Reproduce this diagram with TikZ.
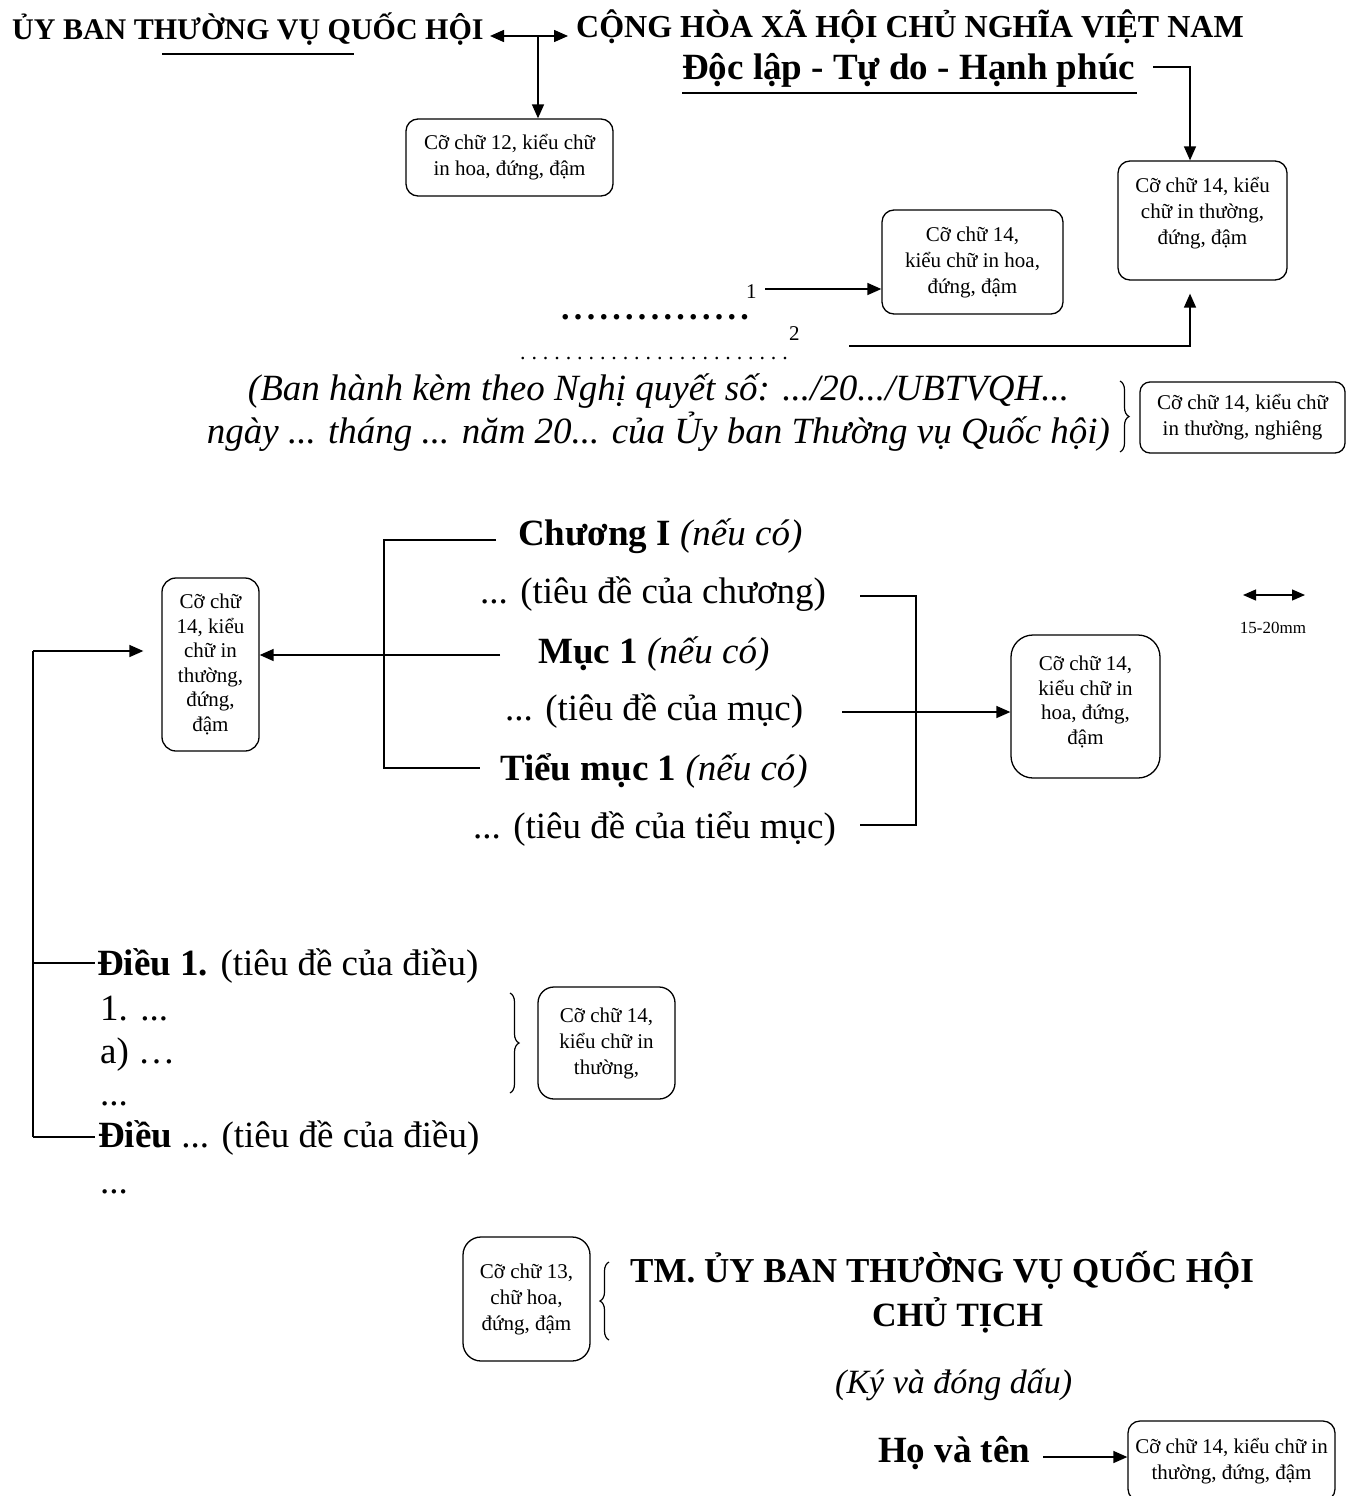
\documentclass[tikz,border=0pt]{standalone}
\usepackage{fontspec}
\setmainfont{Liberation Serif}
\usetikzlibrary{arrows.meta,decorations.pathreplacing,calc}
\newcommand\fsz[1]{\fontsize{#1}{#1}\selectfont}
\begin{document}
\begin{tikzpicture}[x=1pt,y=-1pt,
  box/.style={draw, rounded corners=12pt, line width=1.3pt, align=center,
    font=\fontsize{21}{26}\selectfont, inner sep=0pt},
  lbl/.style={inner sep=0pt, anchor=base west},
  conn/.style={line width=1.5pt},
  arr/.style={conn, -{Triangle[length=14pt,width=12pt]}},
  darr/.style={conn, {Triangle[length=14pt,width=12pt]}-{Triangle[length=14pt,width=12pt]}},
  brace/.style={decorate, decoration={brace, amplitude=9pt}, line width=1.2pt},
]
\useasboundingbox (0,0) rectangle (1357,1496);

% ---------- header ----------
\node[lbl, font=\fsz{30}\bfseries] (uyban) at (12,40) {ỦY BAN THƯỜNG VỤ QUỐC HỘI};
\draw[conn] (162,54) -- (354,54);
\node[lbl, font=\fsz{32}\bfseries] (cong) at (576,38) {CỘNG HÒA XÃ HỘI CHỦ NGHĨA VIỆT NAM};
\node[lbl, font=\fsz{37}\bfseries] (doclap) at (682,80) {Độc lập - Tự do - Hạnh phúc};
\draw[conn] (682,93) -- (1137,93);

\node[box, minimum width=207pt, minimum height=77pt] (b1) at (509.5,157.5)
  {Cỡ chữ 12, kiểu chữ\\in hoa, đứng, đậm};
\node[box, minimum width=169pt, minimum height=119pt] (b2) at (1202.5,220.5) {};
\node[inner sep=0pt, align=center, font=\fontsize{21}{26}\selectfont] (b2t) at (1202.5,213)
  {Cỡ chữ 14, kiểu\\chữ in thường,\\đứng, đậm};
\node[box, minimum width=181pt, minimum height=104pt] (b3) at (972.5,262)
  {Cỡ chữ 14,\\kiểu chữ in hoa,\\đứng, đậm};

\coordinate (dl) at (490,36);
\coordinate (dr) at (568,36);
\draw[darr] (dl) -- (dr);
\draw[arr] (538,36) -- (538,0 |- b1.north);
\draw[arr] (1153,67) -| (1190,0 |- b2.north);

\node[lbl, font=\fsz{21}] (n1) at (746,298) {1};
\coordinate (a1) at (765,289);
\draw[arr] (a1) -- (b3.west |- a1);
\node[lbl, font=\fsz{34}\bfseries] (dots1) at (561,319)
  {\foreach \i in {1,...,15}{.\hspace{4.3pt}}};
\node[lbl, font=\fsz{21}] (n2) at (789,340) {2};
\node[lbl, font=\fsz{22}] (dots2) at (520,359)
  {\foreach \i in {1,...,24}{.\hspace{5.9pt}}};
\coordinate (a2) at (849,346);
\draw[arr] (a2) -| ($(1190,0 |- b2.south)+(0,13)$);

\node[inner sep=0pt, anchor=base, font=\fsz{37}\itshape] (bh1) at (658.5,400)
  {(Ban hành kèm theo Nghị quyết số: .../20.../UBTVQH...};
\node[inner sep=0pt, anchor=base, font=\fsz{37}\itshape] (bh2) at (658.5,443)
  {ngày ... tháng ... năm 20... của Ủy ban Thường vụ Quốc hội)};
\draw[brace] (1120,381) -- (1120,452);
\node[box, rounded corners=10pt, minimum width=205pt, minimum height=71pt] (b4) at (1242.5,417.5)
  {Cỡ chữ 14, kiểu chữ\\in thường, nghiêng};

% ---------- middle ----------
\node[lbl, font=\fsz{37}] (chuong) at (518,545) {\textbf{Chương I} \textit{(nếu có)}};
\node[lbl, font=\fsz{37}] (tdc) at (480,603) {... (tiêu đề của chương)};
\node[lbl, font=\fsz{37}] (muc) at (538,663) {\textbf{Mục 1} \textit{(nếu có)}};
\node[lbl, font=\fsz{37}] (tdm) at (505,720) {... (tiêu đề của mục)};
\node[lbl, font=\fsz{37}] (tieumuc) at (500,780) {\textbf{Tiểu mục 1} \textit{(nếu có)}};
\node[lbl, font=\fsz{37}] (tdtm) at (473,838) {... (tiêu đề của tiểu mục)};

\node[box, rounded corners=14pt, minimum width=97pt, minimum height=173pt,
  font=\fontsize{21}{24.5}\selectfont] (lb) at (210.5,664.5)
  {Cỡ chữ\\14, kiểu\\chữ in\\thường,\\đứng,\\đậm};
\node[box, rounded corners=22pt, minimum width=149pt, minimum height=143pt,
  font=\fontsize{21}{24.5}\selectfont] (rb) at (1085.5,706.5) {};
\node[inner sep=0pt, align=center, font=\fontsize{21}{24.5}\selectfont] (rbt) at (1085.5,702)
  {Cỡ chữ 14,\\kiểu chữ in\\hoa, đứng,\\đậm};

\draw[conn] (496,540) -- (384,540) -- (384,768) -- (480,768);
\coordinate (am) at (500,655);
\draw[arr] (am) -- (lb.east |- am);
\draw[conn] (860,596) -- (916,596) -- (916,825) -- (860,825);
\coordinate (ar) at (842,712);
\draw[arr] (ar) -- (rb.west |- ar);

\coordinate (sl) at (1243,595);
\coordinate (sr) at (1305,595);
\draw[line width=1.2pt, {Triangle[length=13pt,width=11pt]}-{Triangle[length=13pt,width=11pt]}] (sl) -- (sr);
\node[inner sep=0pt, anchor=base, font=\fsz{17}] (mm) at (1273,633) {15-20mm};

% ---------- articles ----------
\node[lbl, font=\fsz{37}] (d1) at (97,975) {\textbf{Điều 1.} (tiêu đề của điều)};
\node[lbl, font=\fsz{37}] (k1) at (100,1020) {1. ...};
\node[lbl, font=\fsz{37}] (ka) at (100,1063) {a) …};
\node[lbl, font=\fsz{37}] (kd) at (100,1105) {...};
\node[lbl, font=\fsz{37}] (dn) at (98,1147) {\textbf{Điều} ... (tiêu đề của điều)};
\node[lbl, font=\fsz{37}] (kd2) at (100,1193) {...};

\coordinate (vtop) at (33,651);
\coordinate (vbot) at (33,1137);
\draw[arr] (vtop) -- ($(lb.west |- vtop)+(-18,0)$);
\draw[conn] (vtop) -- (vbot);
\draw[conn] (33,963) -- (95,963);
\draw[conn] (vbot) -- (95,1137);

\draw[brace] (510,993) -- (510,1093);
\node[box, rounded corners=16pt, minimum width=137pt, minimum height=112pt] (b5) at (606.5,1043)
  {Cỡ chữ 14,\\kiểu chữ in\\thường,};

% ---------- signature ----------
\node[box, rounded corners=18pt, minimum width=127pt, minimum height=124pt] (b6) at (526.5,1299)
  {Cỡ chữ 13,\\chữ hoa,\\đứng, đậm};
\draw[brace] (609,1340) -- (609,1262);
\node[lbl, font=\fsz{35}\bfseries] (tm) at (630,1282) {TM. ỦY BAN THƯỜNG VỤ QUỐC HỘI};
\node[lbl, font=\fsz{34}\bfseries] (ct) at (872,1326) {CHỦ TỊCH};
\node[lbl, font=\fsz{34}\itshape] (ky) at (835,1393) {(Ký và đóng dấu)};
\node[lbl, font=\fsz{37}\bfseries] (ht) at (878,1462) {Họ và tên};
\node[box, rounded corners=12pt, minimum width=207pt, minimum height=80pt] (b7) at (1231.5,1461)
  {Cỡ chữ 14, kiểu chữ in\\thường, đứng, đậm};
\coordinate (ah) at (1043,1457);
\draw[arr] (ah) -- (b7.west |- ah);
\end{tikzpicture}
\end{document}
